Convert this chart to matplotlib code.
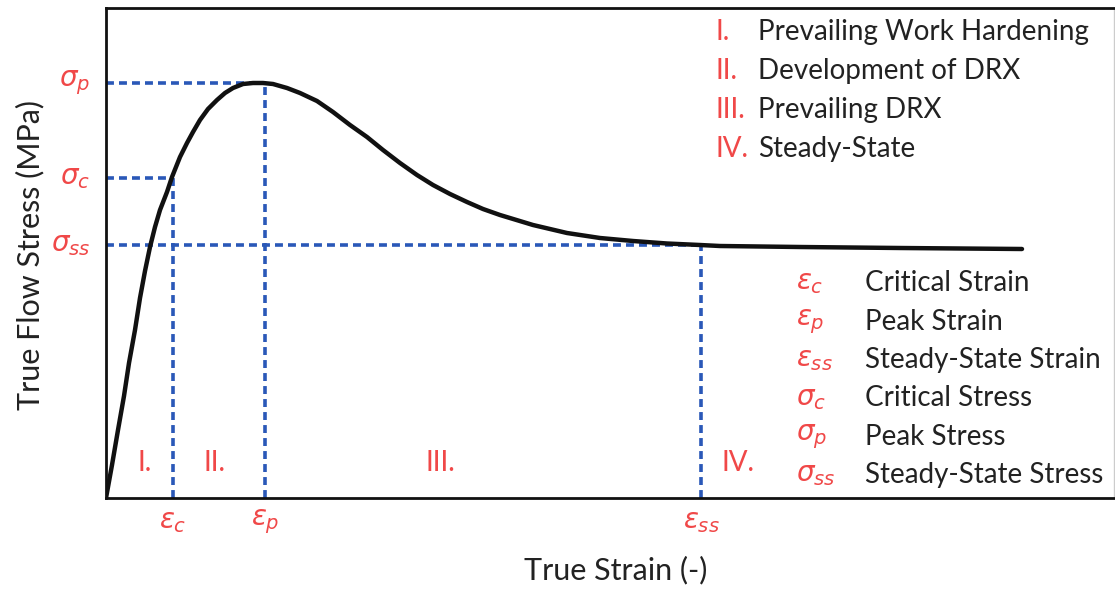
import matplotlib
matplotlib.use("Agg")
import matplotlib.pyplot as plt

# flow curve (arbitrary units)
strain = [0.0, 0.006, 0.012, 0.018, 0.023, 0.029, 0.034, 0.039, 0.044,
          0.049, 0.054, 0.061, 0.066, 0.074, 0.081, 0.087, 0.094, 0.102, 0.111,
          0.119, 0.127, 0.137, 0.147, 0.157, 0.167, 0.181, 0.194, 0.211, 0.227,
          0.244, 0.261, 0.277, 0.294, 0.311, 0.327, 0.344, 0.361, 0.377, 0.394,
          0.427, 0.461, 0.494, 0.527, 0.561, 0.594, 0.614, 0.694, 0.794, 0.916]
stress = [0, 33, 68, 102, 135, 168, 200, 227, 251,
          271, 288, 306, 321, 341, 355, 366, 378, 389, 398,
          405, 410, 414, 415, 415, 414, 410, 405, 397, 386,
          373, 361, 348, 335, 323, 313, 304, 296, 289, 283,
          273, 265, 260, 257, 254.5, 253, 252, 251, 250, 249]

# characteristic points
eps_c, eps_p, eps_ss = 0.067, 0.159, 0.595
sig_c, sig_p, sig_ss = 320, 415, 253

eps_labels = [r"$\varepsilon_c$", r"$\varepsilon_p$", r"$\varepsilon_{ss}$"]
sig_labels = [r"$\sigma_c$", r"$\sigma_p$", r"$\sigma_{ss}$"]

regions = ["I.", "II.", "III.", "IV."]
region_x = [0.039, 0.109, 0.334, 0.632]
region_names = ["Prevailing Work Hardening", "Development of DRX",
                "Prevailing DRX", "Steady-State"]

sym_labels = [r"$\varepsilon_c$", r"$\varepsilon_p$", r"$\varepsilon_{ss}$",
              r"$\sigma_c$", r"$\sigma_p$", r"$\sigma_{ss}$"]
sym_names = ["Critical Strain", "Peak Strain", "Steady-State Strain",
             "Critical Stress", "Peak Stress", "Steady-State Stress"]

red = "#f04848"
blue = "#2a58b8"
plt.rcParams["font.family"] = ["Lato", "DejaVu Sans"]
plt.rcParams["mathtext.fontset"] = "dejavusans"

fig = plt.figure(figsize=(11.15, 5.9), dpi=100)
ax = fig.add_axes([106 / 1115, 92 / 590, 1008 / 1115, 490 / 590])
ax.set_xlim(0, 1.008)
ax.set_ylim(0, 490)

ax.plot(strain, stress, color="#111111", lw=3.2, solid_capstyle="round",
        solid_joinstyle="round", zorder=3)

dash = dict(color=blue, lw=2.6, ls=(0, (2.2, 1.4)), zorder=2)
for e, s in zip([eps_c, eps_p, eps_ss], [sig_c, sig_p, sig_ss]):
    ax.plot([0, e], [s, s], **dash)
    ax.plot([e, e], [0, s], **dash)

for e, lab in zip([eps_c, eps_p, eps_ss], eps_labels):
    ax.text(e, -24, lab, color=red, fontsize=20, ha="center", va="center", clip_on=False)
for s, lab in zip([sig_c, sig_p, sig_ss], sig_labels):
    ax.text(-0.016, s, lab, color=red, fontsize=20, ha="right", va="center", clip_on=False)

for x, r in zip(region_x, regions):
    ax.text(x, 35, r, color=red, fontsize=20, ha="center", va="center")

for i, (r, name) in enumerate(zip(regions, region_names)):
    y = 466 - i * 39
    ax.text(0.610, y, r, color=red, fontsize=20, ha="left", va="center")
    ax.text(0.652, y, name, color="#222222", fontsize=20, ha="left", va="center")

for i, (lab, name) in enumerate(zip(sym_labels, sym_names)):
    y = 215 - i * 38.5
    ax.text(0.690, y, lab, color=red, fontsize=20, ha="left", va="center")
    ax.text(0.759, y, name, color="#222222", fontsize=20, ha="left", va="center")

ax.set_xticks([])
ax.set_yticks([])
for side in ["left", "top", "bottom"]:
    ax.spines[side].set_linewidth(2)
    ax.spines[side].set_color("#111111")
ax.spines["right"].set_linewidth(1)
ax.spines["right"].set_color("#cccccc")

fig.text(30 / 1115, 1 - 255 / 590, "True Flow Stress (MPa)", rotation=90,
         fontsize=22, ha="center", va="center", color="#222222")
fig.text(616 / 1115, 1 - 570 / 590, "True Strain (-)", fontsize=22,
         ha="center", va="center", color="#222222")

fig.savefig("out.png", dpi=100)
